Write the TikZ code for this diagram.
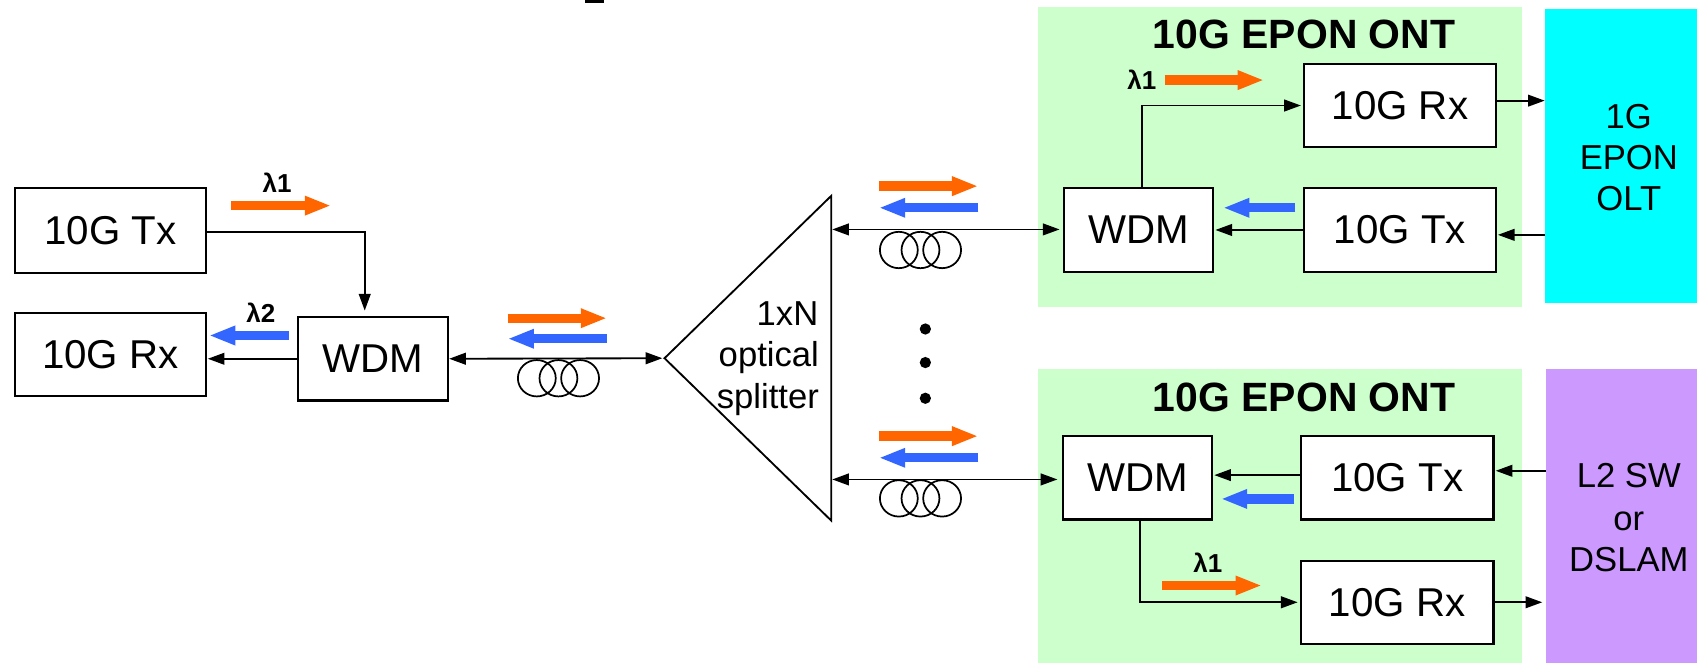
\documentclass[tikz,border=0pt]{standalone}
\usepackage{fontspec}
\setmainfont{Liberation Sans}
\usetikzlibrary{arrows.meta}
\definecolor{ontgreen}{RGB}{204,255,204}
\definecolor{oltcyan}{RGB}{0,255,255}
\definecolor{swpurple}{RGB}{204,153,255}
\definecolor{fatorange}{RGB}{255,102,0}
\definecolor{fatblue}{RGB}{51,102,255}
\tikzset{
  blockbox/.style={draw=black,line width=1pt,fill=white,inner sep=0pt,font=\fontsize{18.6}{22}\selectfont},
  panel/.style={inner sep=0pt,outer sep=0pt},
  sidetext/.style={inner sep=0pt,anchor=base,font=\fontsize{16}{19.2}\selectfont},
  splittext/.style={inner sep=0pt,anchor=base east,font=\fontsize{16}{19.2}\selectfont},
  ttl/.style={font=\bfseries\fontsize{18.9}{22}\selectfont,inner sep=0pt},
  lam/.style={font=\bfseries\fontsize{12}{14}\selectfont,inner sep=0pt},
  conn/.style={line width=0.85pt,-{Triangle[length=7.7pt,width=5.4pt]}},
  biconn/.style={line width=0.85pt,{Triangle[length=7.7pt,width=5.4pt]}-{Triangle[length=7.7pt,width=5.4pt]}},
  coil/.style={draw=black,line width=0.8pt},
  fat/.style={line width=4.3pt,-{Triangle[length=12.2pt,width=8.2pt]}},
}
% name, colour, x from, x to, y
\newcommand{\fatarrow}[5]{%
  \coordinate (#1s) at (#3,#5);
  \coordinate (#1e) at (#4,#5);
  \draw[fat,#2] (#1s) -- (#1e);}
\newcommand{\coils}[3]{%
  \draw[coil] (#1,#3) ellipse [x radius=17.5,y radius=16.8];
  \draw[coil] (#2,#3) ellipse [x radius=17.5,y radius=16.8];
  \draw[coil] ({#2+#2-#1},#3) ellipse [x radius=17.5,y radius=16.8];}
\begin{document}
\begin{tikzpicture}[x=0.5pt,y=-0.5pt]
\useasboundingbox (0,0) rectangle (1568,613);
\fill[black] (540.5,0) rectangle (558,2.5);
% panels
\node[panel,fill=ontgreen,minimum width=223.75pt,minimum height=138.5pt] (ont1) at (1182.75,145) {};
\node[panel,fill=ontgreen,minimum width=223.75pt,minimum height=136pt] (ont2) at (1182.75,477) {};
\node[panel,fill=oltcyan,minimum width=70.25pt,minimum height=135.7pt] (olt) at (1497.5,144) {};
\node[panel,fill=swpurple,minimum width=70pt,minimum height=136pt] (sw) at (1498,477) {};
\node[sidetext] (o1) at (1505,118.4) {1G};
\node[sidetext] (o2) at (1505,156.4) {EPON};
\node[sidetext] (o3) at (1505,194.4) {OLT};
\node[sidetext] (s1) at (1505,450.4) {L2 SW};
\node[sidetext] (s2) at (1505,490) {or};
\node[sidetext] (s3) at (1505,528.4) {DSLAM};
\node[ttl] (t1) at (1205,32) {10G EPON ONT};
\node[ttl] (t2) at (1205,367) {10G EPON ONT};
% left blocks
\node[blockbox,minimum width=88pt,minimum height=39pt] (tx0) at (102,213) {10G Tx};
\node[blockbox,minimum width=88pt,minimum height=38.5pt] (rx0) at (102,327.5) {10G Rx};
\node[blockbox,minimum width=69.5pt,minimum height=38.5pt] (wdm0) at (344.5,331.5) {WDM};
% top ONT
\node[blockbox,minimum width=69pt,minimum height=38.5pt] (wdm1) at (1052,212.5) {WDM};
\node[blockbox,minimum width=88.5pt,minimum height=38.5pt] (rx1) at (1293.5,97.5) {10G Rx};
\node[blockbox,minimum width=88.5pt,minimum height=38.5pt] (tx1) at (1293.5,212.5) {10G Tx};
% bottom ONT
\node[blockbox,minimum width=69pt,minimum height=38.5pt] (wdm2) at (1051,441.5) {WDM};
\node[blockbox,minimum width=89pt,minimum height=38.5pt] (tx2) at (1291,441.5) {10G Tx};
\node[blockbox,minimum width=89pt,minimum height=38.5pt] (rx2) at (1291,556.5) {10G Rx};
% splitter
\coordinate (spA) at (614,331);
\coordinate (spB) at (768,181);
\coordinate (spC) at (768,481);
\draw[line width=0.85pt,line join=miter] (spA) -- (spB) -- (spC) -- cycle;
\node[splittext] (sp1) at (756.5,300.4) {1xN};
\node[splittext] (sp2) at (757,339) {optical};
\node[splittext] (sp3) at (757,377) {splitter};
% connectors
\coordinate (spt) at (769,212);
\coordinate (spb) at (769,443);
\coordinate (spm) at (612,331);
\draw[conn] ([yshift=-0.5pt]tx0.east) -| ([xshift=-3.75pt,yshift=2.5pt]wdm0.north);
\draw[conn] (wdm0.west) -- ([xshift=0.5pt]rx0.east |- wdm0.west);
\draw[biconn] (wdm0.east) -- (spm);
\draw[biconn] (spt) -- ([xshift=-1.5pt]wdm1.west |- spt);
\draw[biconn] (spb) -- ([xshift=-2pt]wdm2.west |- spb);
\draw[conn] ([xshift=1.5pt]wdm1.north) |- ([xshift=-1pt]rx1.west);
\draw[conn] (olt.west |- 0,217) -- ([xshift=0.5pt]tx1.east |- 0,217);
\draw[conn] (rx1.east |- 0,93) -- (olt.west |- 0,93);
\draw[conn] (tx1.west) -- ([xshift=0.5pt]wdm1.east);
\draw[conn] (tx2.west |- 0,439) -- ([xshift=0.5pt]wdm2.east |- 0,439);
\draw[conn] (sw.west |- 0,435) -- ([xshift=0.5pt]rx2.east |- 0,435);
\draw[conn] (rx2.east) -- ([xshift=-1.5pt]sw.west |- rx2.east);
\draw[conn] ([xshift=1pt]wdm2.south) |- ([xshift=-1pt]rx2.west);
% coils
\coils{496}{516}{349.5}
\coils{830.5}{850.5}{231}
\coils{830.5}{850.5}{460.5}
% wavelength arrows
\fatarrow{a1}{fatorange}{213}{306}{190}
\fatarrow{a2}{fatblue}{267}{193}{310}
\fatarrow{a3}{fatorange}{469}{561}{294}
\fatarrow{a4}{fatblue}{561}{469}{313}
\fatarrow{a5}{fatorange}{812}{904}{172}
\fatarrow{a6}{fatblue}{904}{812}{192}
\fatarrow{a7}{fatorange}{812}{904}{403}
\fatarrow{a8}{fatblue}{904}{812}{423}
\fatarrow{a9}{fatorange}{1076}{1168}{74}
\fatarrow{a10}{fatblue}{1197}{1130}{192}
\fatarrow{a11}{fatblue}{1196}{1128}{461}
\fatarrow{a12}{fatorange}{1074}{1166}{541}
% lambda labels
\node[lam] (l1) at (256,169) {λ1};
\node[lam] (l2) at (241,289) {λ2};
\node[lam] (l3) at (1055,74) {λ1};
\node[lam] (l4) at (1116,520) {λ1};
% dots
\fill (855,304) circle [radius=5.2];
\fill (855,335) circle [radius=5.2];
\fill (855,368) circle [radius=5.2];
\end{tikzpicture}
\end{document}
